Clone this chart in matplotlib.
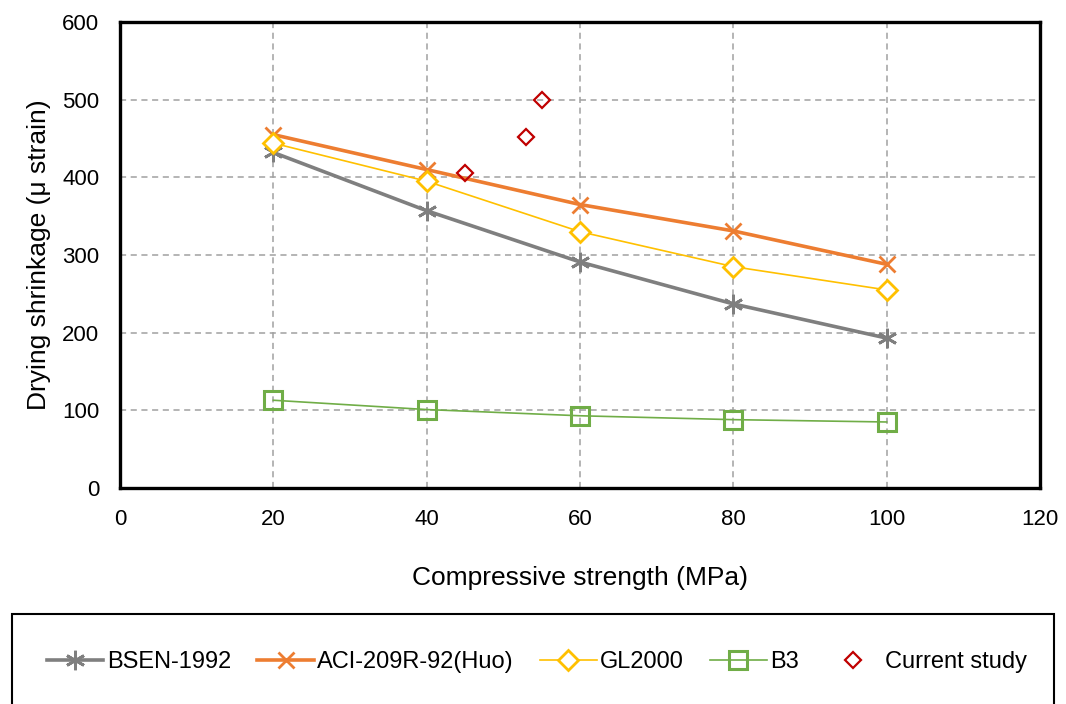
import matplotlib
matplotlib.use('Agg')
import matplotlib.pyplot as plt
from matplotlib.patches import Rectangle

plt.rcParams['font.family'] = ['Liberation Sans', 'DejaVu Sans']

strength = [20, 40, 60, 80, 100]
bsen = [432, 357, 291, 237, 193]
aci = [455, 410, 365, 331, 288]
gl2000 = [444, 395, 330, 285, 255]
b3 = [113, 101, 93, 88, 85]
study_x = [45, 53, 55]
study_y = [405, 452, 500]

fig = plt.figure(figsize=(10.66, 7.04), dpi=100)
ax = fig.add_axes([120 / 1066, 1 - 488 / 704, 920 / 1066, 466 / 704])

ax.plot(strength, bsen, color='#7f7f7f', lw=2.6, marker=(6, 2, 0), ms=14, mew=2,
        label='BSEN-1992', zorder=3)
ax.plot(strength, aci, color='#ed7d31', lw=2.6, marker='x', ms=12, mew=2,
        label='ACI-209R-92(Huo)', zorder=3)
ax.plot(strength, gl2000, color='#ffc000', lw=1.2, marker='D', ms=10, mew=2,
        mfc='white', label='GL2000', zorder=3)
ax.plot(strength, b3, color='#70ad47', lw=1.2, marker='s', ms=13, mew=2.2,
        mfc='none', label='B3', zorder=3)
ax.plot(study_x, study_y, ls='none', color='#c00000', marker='D', ms=8.5, mew=1.6,
        mfc='none', label='Current study', zorder=3)

ax.set_xlim(0, 120)
ax.set_ylim(0, 600)
ax.set_xticks(range(0, 121, 20))
ax.set_yticks(range(0, 601, 100))
ax.grid(True, color='#a0a0a0', ls=(0, (4, 3)), lw=1.1)
ax.tick_params(length=0, labelsize=16)
ax.tick_params(axis='y', pad=15)
ax.tick_params(axis='x', pad=15)
for s in ax.spines.values():
    s.set_linewidth(2.4)
    s.set_color('black')

ax.set_xlabel('Compressive strength (MPa)', fontsize=19, labelpad=26)
ax.set_ylabel('Drying shrinkage (μ strain)', fontsize=19, labelpad=8)

fig.patches.append(Rectangle((12 / 1066, -0.05), 1042 / 1066, 1 - 614 / 704 + 0.05,
                             transform=fig.transFigure, fill=False,
                             edgecolor='black', lw=1.5))
fig.legend(loc='center', bbox_to_anchor=(537 / 1066, 1 - 662 / 704),
           ncol=5, fontsize=17, frameon=False,
           handlelength=2.4, handletextpad=0.15, columnspacing=1.1)

fig.savefig('out.png', dpi=100)
